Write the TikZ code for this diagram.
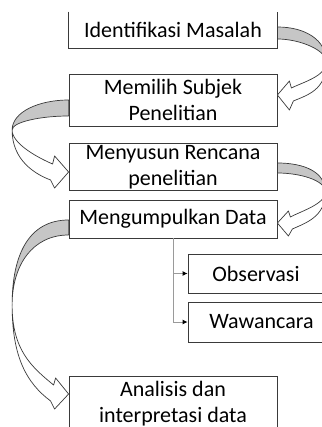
\documentclass[tikz,border=0pt]{standalone}
\usepackage{fontspec}
\setmainfont{Carlito}
\usepackage{xcolor}
\usepackage{tikz}
\usetikzlibrary{positioning, arrows.meta, calc}
\definecolor{boxLine}{HTML}{3A3A3A}
\definecolor{ribGray}{HTML}{C6C6C6}
\definecolor{linkGray}{HTML}{9A9A9A}
\tikzset{
  stepbox/.style={draw=boxLine, line width=0.8pt, fill=white, align=center, inner sep=2pt,
    minimum width=208pt, font=\fontsize{22}{26}\selectfont},
  ribback/.style={draw=boxLine, line width=0.7pt, fill=ribGray, line join=round},
  ribfront/.style={draw=boxLine, line width=0.7pt, fill=white, line join=round},
  link/.style={draw=linkGray, line width=0.9pt, -{Latex[length=5pt,width=5pt,color=black]}},
}

\begin{document}
\begin{tikzpicture}[x=1pt, y=-1pt]
        \useasboundingbox (0,0) rectangle (321,427);
        % steps
        \node[stepbox, draw=none, minimum height=36pt] (ident) at (173,30) {Identifikasi Masalah};
        \draw[boxLine, line width=0.8pt] (ident.north west) -- (ident.south west) -- (ident.south east) -- (ident.north east);
        \node[stepbox, minimum height=52pt] (subjek) at (173,100) {Memilih Subjek\\Penelitian};
        \node[stepbox, minimum height=46pt] (rencana) at (173,167) {Menyusun Rencana\\penelitian};
        \node[stepbox, minimum height=38pt] (kumpul) at (173,219) {Mengumpulkan Data};
        \node[stepbox, minimum width=136pt, minimum height=39pt] (obs) at (256,273.5) {Observasi};
        \node[stepbox, minimum width=147pt, minimum height=40pt] (wawan) at (261.5,322) {Wawancara};
        \node[stepbox, minimum height=55pt] (analisis) at (173,403.5) {Analisis dan\\interpretasi data};
        % data collection branches
        \draw[link] (kumpul.south) |- (obs.west);
        \draw[link] (kumpul.south) |- (wawan.west);
        % curved arrow 1: right side
        \coordinate (r1a) at ($(ident.east)+(0,-3)$);
        \coordinate (r1b) at ($(ident.east)+(0,9)$);
        \coordinate (r1e) at ($(ident.east)+(49,32)$);
        \coordinate (r1t) at ($(subjek.east)+(0,-5)$);
        \draw[ribback] (r1a) .. controls +(28,0) and +(0,-22) .. (r1e) .. controls +(0,-12) and +(22,0) .. (r1b) -- cycle;
        \draw[ribfront] (r1t) -- ($(r1t)+(12,-14)$) -- ($(r1t)+(14,-7)$) .. controls +(12,-6) and +(0,14) .. (r1e)
          .. controls +(0,28) and +(14,-6) .. ($(r1t)+(16,6)$) -- ($(r1t)+(12,15)$) -- cycle;
        % curved arrow 2: left side
        \coordinate (r2a) at ($(subjek.west)+(0,0)$);
        \coordinate (r2b) at ($(subjek.west)+(0,16)$);
        \coordinate (r2e) at ($(subjek.west)+(-56.5,30)$);
        \coordinate (r2t) at ($(rencana.west)+(0,5)$);
        \draw[ribback] (r2a) .. controls +(-30,0) and +(0,-18) .. (r2e) .. controls +(0,-8) and +(-28,0) .. (r2b) -- cycle;
        \draw[ribfront] (r2t) -- ($(r2t)+(-14,-16)$) -- ($(r2t)+(-16,-8)$) .. controls +(-14,-6) and +(0,14) .. (r2e)
          .. controls +(0,30) and +(-16,-6) .. ($(r2t)+(-18,8)$) -- ($(r2t)+(-14,16)$) -- cycle;
        % curved arrow 3: right side
        \coordinate (r3a) at ($(rencana.east)+(0,-4)$);
        \coordinate (r3b) at ($(rencana.east)+(0,6)$);
        \coordinate (r3e) at ($(rencana.east)+(48,25)$);
        \coordinate (r3t) at ($(kumpul.east)+(0,4)$);
        \draw[ribback] (r3a) .. controls +(27,0) and +(0,-20) .. (r3e) .. controls +(0,-12) and +(22,0) .. (r3b) -- cycle;
        \draw[ribfront] (r3t) -- ($(r3t)+(11,-12)$) -- ($(r3t)+(13,-6)$) .. controls +(11,-6) and +(0,12) .. (r3e)
          .. controls +(0,25) and +(13,-6) .. ($(r3t)+(15,6)$) -- ($(r3t)+(11,13)$) -- cycle;
        % curved arrow 4: left side, long
        \coordinate (r4a) at ($(kumpul.west)+(0,1)$);
        \coordinate (r4b) at ($(kumpul.west)+(0,16)$);
        \coordinate (r4e) at ($(kumpul.west)+(-56.5,86)$);
        \coordinate (r4t) at ($(analisis.west)+(0,-9.5)$);
        \draw[ribback] (r4a) .. controls +(-40,0) and +(0,-50) .. (r4e) .. controls +(0,-40) and +(-36,0) .. (r4b) -- cycle;
        \draw[ribfront] (r4t) -- ($(r4t)+(-13,-16)$) -- ($(r4t)+(-15,-9)$) .. controls +(-22,-18) and +(0,45) .. (r4e)
          .. controls +(0,52) and +(-24,-18) .. ($(r4t)+(-18,7)$) -- ($(r4t)+(-14,15)$) -- cycle;
\end{tikzpicture}
\end{document}
